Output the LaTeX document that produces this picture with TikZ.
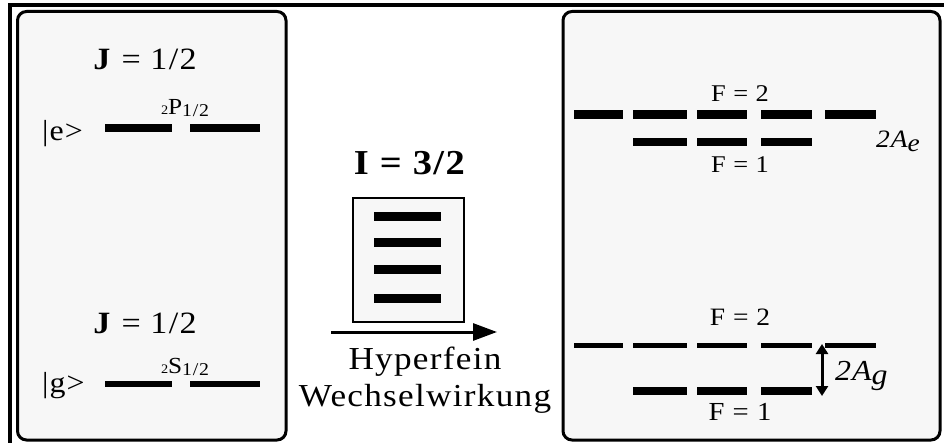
\documentclass[tikz,border=0pt]{standalone}
\usepackage{fontspec}
\setmainfont{Liberation Serif}
\newfontfamily\trackfont[FakeStretch=1.1, LetterSpace=4]{Liberation Serif}
\usetikzlibrary{arrows.meta}

\tikzset{
  panel/.style={line width=3pt, rounded corners=9pt, fill=black!3},
  nucbox/.style={line width=2.2pt, fill=black!3},
  lvl/.style 2 args={fill=black, draw=none, inner sep=0pt, outer sep=0pt,
                     minimum width=#1, minimum height=#2},
  lab/.style={inner sep=0pt, outer sep=0pt, anchor=base},
  labw/.style={lab, anchor=base west},
  fs/.style={font=\trackfont\fontsize{#1}{#1}\selectfont},
}

\begin{document}
\begin{tikzpicture}[x=1pt, y=-1pt]
  \useasboundingbox (0,0) rectangle (952,443);

  % outer frame (open at the bottom)
  \draw[line width=4pt] (10,443) -- (10,5) -- (944,5);

  % panels
  \draw[panel] (17.5,11.5) rectangle (286,440);
  \draw[panel] (563,11.5) rectangle (940,440);

  % ---------------- fine structure (left panel) ----------------
  \node[lab, fs=31] (Jup) at (145,70) {\textbf{J} = 1/2};
  \node[labw, fs=29] (ket-e) at (42,141) {|e>};
  \node[labw, fs=23] (term-P) at (161,115)
    {{\fontsize{13}{13}\selectfont 2}P\raisebox{-2pt}{\fontsize{18}{18}\selectfont 1/2}};
  \node[lvl={67pt}{8pt}] (eL1) at (138.5,128) {};
  \node[lvl={70pt}{8pt}] (eL2) at (225,128) {};

  \node[lab, fs=31] (Jdn) at (145,333) {\textbf{J} = 1/2};
  \node[labw, fs=29] (ket-g) at (42,392) {|g>};
  \node[labw, fs=23] (term-S) at (161,373)
    {{\fontsize{13}{13}\selectfont 2}S\raisebox{-2pt}{\fontsize{18}{18}\selectfont 1/2}};
  \node[lvl={67pt}{6pt}] (gL1) at (138.5,384) {};
  \node[lvl={70pt}{6pt}] (gL2) at (225,384) {};

  % ---------------- nuclear spin (middle) ----------------
  \node[lab, fs=35] (spinI) at (410,175) {\textbf{I = 3/2}};
  \draw[nucbox] (353,198) rectangle (464,322);
  \foreach \yy [count=\k] in {217,243,270,299}
    \node[lvl={67pt}{9pt}] (m\k) at (407.5,\yy) {};

  \coordinate (hfS) at (331,332);
  \coordinate (hfE) at (497,332);
  \draw[line width=3pt, -{Triangle[length=24pt,width=17pt]}] (hfS) -- (hfE);
  \node[lab, fs=32] (hf1) at (425,369) {Hyperfein};
  \node[lab, fs=32] (hf2) at (425,406) {Wechselwirkung};

  % ---------------- hyperfine structure (right panel) ----------------
  % excited state
  \node[lvl={49pt}{9pt}] (eA1) at (598.5,114.5) {};
  \node[lvl={54pt}{9pt}] (eA2) at (660,114.5) {};
  \node[lvl={50pt}{9pt}] (eA3) at (722,114.5) {};
  \node[lvl={51pt}{9pt}] (eA4) at (786.5,114.5) {};
  \node[lvl={51pt}{9pt}] (eA5) at (850.5,114.5) {};
  \node[lvl={54pt}{8pt}] (eB2) at (660,142) {};
  \node[lvl={50pt}{8pt}] (eB3) at (722,142) {};
  \node[lvl={51pt}{8pt}] (eB4) at (786.5,142) {};
  \node[lab, fs=24] (eF2) at (740,102) {F = 2};
  \node[lab, fs=24] (eF1) at (740,173) {F = 1};
  \node[labw, fs=25] (Ae) at (876,148) {\itshape 2A\raisebox{-4pt}{e}};

  % ground state
  \node[lvl={49pt}{5.5pt}] (gA1) at (598.5,345.5) {};
  \node[lvl={54pt}{5.5pt}] (gA2) at (660,345.5) {};
  \node[lvl={50pt}{5.5pt}] (gA3) at (722,345.5) {};
  \node[lvl={51pt}{5.5pt}] (gA4) at (786.5,345.5) {};
  \node[lvl={51pt}{5.5pt}] (gA5) at (850.5,345.5) {};
  \node[lvl={54pt}{8pt}] (gB2) at (660,390.5) {};
  \node[lvl={50pt}{8pt}] (gB3) at (722,390.5) {};
  \node[lvl={51pt}{8pt}] (gB4) at (786.5,390.5) {};
  \node[lab, fs=25] (gF2) at (740,325) {F = 2};
  \node[lab, fs=26] (gF1) at (740,420) {F = 1};

  \coordinate (splitTop) at (822,344);
  \coordinate (splitBot) at (822,396);
  \draw[line width=3pt, {Triangle[length=10pt,width=12pt]}-{Triangle[length=10pt,width=12pt]}]
    (splitTop) -- (splitBot);
  \node[labw, fs=29] (Ag) at (835,380) {\itshape 2A\raisebox{-4pt}{g}};
\end{tikzpicture}
\end{document}
